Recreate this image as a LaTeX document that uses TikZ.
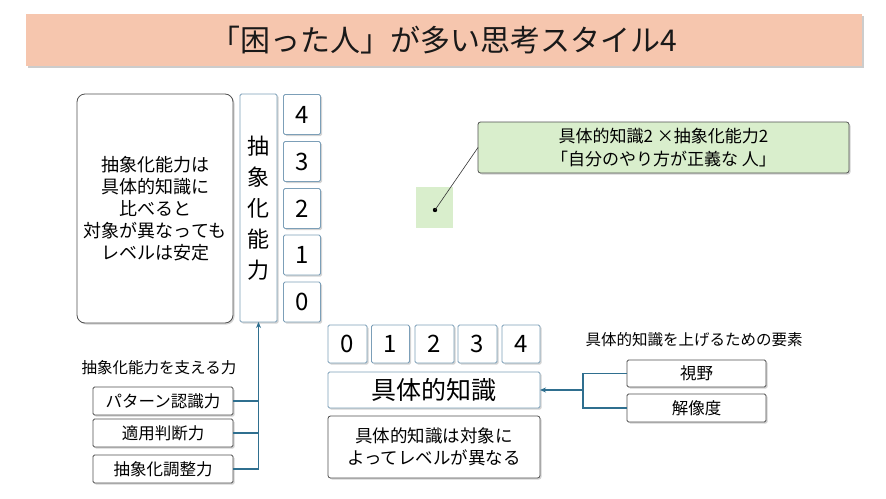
\documentclass[tikz,border=0pt]{standalone}
\usepackage{fontspec}
\setmainfont{Noto Sans CJK JP}
\usetikzlibrary{shadows,arrows.meta}
\definecolor{peach}{HTML}{F6C6AE}
\definecolor{greenf}{HTML}{D9EECC}
\definecolor{blueb}{HTML}{7C9FB8}
\definecolor{conn}{HTML}{2F6F8F}
\definecolor{darkb}{HTML}{505050}
\tikzset{
  shad/.style={drop shadow={shadow xshift=1.5pt,shadow yshift=-1.5pt,opacity=0.35}},
  bluebox/.style={draw=blueb,line width=0.8pt,fill=white,inner sep=0pt,outer sep=0pt,rounded corners=1.5pt,shad},
  greybox/.style={draw=darkb,line width=0.8pt,fill=white,inner sep=0pt,outer sep=0pt,rounded corners=2.5pt,shad},
  cline/.style={draw=conn,line width=1.1pt},
  numtxt/.style={font=\fontsize{24}{26}\selectfont},
}
\begin{document}
\begin{tikzpicture}[x=1pt,y=-1pt]
\useasboundingbox (0,0) rectangle (886,498);
% title
\node[fill=peach,minimum width=836pt,minimum height=52pt,inner sep=0pt,
  drop shadow={shadow xshift=1.5pt,shadow yshift=-2pt,opacity=0.4},
  font=\fontsize{30}{32}\selectfont,text=black!90] (title) at (444,40) {「困った人」が多い思考スタイル4};
% left big box
\node[greybox,rounded corners=8pt,minimum width=156pt,minimum height=229pt,align=center,
  font=\fontsize{18}{22}\selectfont] (desc) at (155,208.5)
  {抽象化能力は\\具体的知識に\\比べると\\対象が異なっても\\レベルは安定};
% vertical label
\node[bluebox,minimum width=37pt,minimum height=228pt,align=center,
  font=\fontsize{22}{31}\selectfont] (abs) at (258.5,208) {抽\\象\\化\\能\\力};
% vertical numbers
\node[bluebox,numtxt,minimum width=37pt,minimum height=40pt] (v4) at (302,114.5) {4};
\node[bluebox,numtxt,minimum width=37pt,minimum height=40pt] (v3) at (302,161.5) {3};
\node[bluebox,numtxt,minimum width=37pt,minimum height=40pt] (v2) at (302,208.5) {2};
\node[bluebox,numtxt,minimum width=37pt,minimum height=40pt] (v1) at (302,255) {1};
\node[bluebox,numtxt,minimum width=37pt,minimum height=40pt] (v0) at (302,302) {0};
% horizontal numbers
\node[bluebox,numtxt,minimum width=39pt,minimum height=38pt] (h0) at (347.5,344) {0};
\node[bluebox,numtxt,minimum width=38pt,minimum height=38pt] (h1) at (390.5,344) {1};
\node[bluebox,numtxt,minimum width=39pt,minimum height=38pt] (h2) at (434.5,344) {2};
\node[bluebox,numtxt,minimum width=39pt,minimum height=38pt] (h3) at (477.5,344) {3};
\node[bluebox,numtxt,minimum width=38pt,minimum height=38pt] (h4) at (521,344) {4};
% concrete knowledge
\node[bluebox,minimum width=212pt,minimum height=36pt,font=\fontsize{25}{27}\selectfont] (gutai) at (434,390) {具体的知識};
\node[greybox,minimum width=212pt,minimum height=62pt,align=center,font=\fontsize{17.5}{22}\selectfont] (gdesc) at (434,447) {具体的知識は対象に\\よってレベルが異なる};
% callout
\node[greybox,fill=greenf,minimum width=371pt,minimum height=51pt,align=center,font=\fontsize{17}{23}\selectfont] (call) at (663.5,147.5) {具体的知識2 ×抽象化能力2\\「自分のやり方が正義な 人」};
\node[fill=greenf,minimum width=37pt,minimum height=41pt,inner sep=0pt] (sq) at (434.5,207.5) {};
\coordinate (dot) at (435,210);
\fill[black] (dot) circle (2.2pt);
\draw[black!80,line width=0.6pt] (dot) -- (call.west);
% left bottom
\node[font=\fontsize{15.5}{18}\selectfont,anchor=center] (lbl) at (159,368) {抽象化能力を支える力};
\node[greybox,rounded corners=1.5pt,minimum width=140pt,minimum height=28pt,font=\fontsize{16.5}{18}\selectfont] (pat) at (163,401) {パターン認識力};
\node[greybox,rounded corners=1.5pt,minimum width=140pt,minimum height=28pt,font=\fontsize{16.5}{18}\selectfont] (adj) at (163,433) {適用判断力};
\node[greybox,rounded corners=1.5pt,minimum width=140pt,minimum height=28pt,font=\fontsize{16.5}{18}\selectfont] (cho) at (163,469) {抽象化調整力};
\draw[cline] (pat.east) -- (pat.east -| abs.south);
\draw[cline] (adj.east) -- (adj.east -| abs.south);
\draw[cline,-{Stealth[length=6pt,width=5pt]}] (cho.east) -| (abs.south);
% right
\node[font=\fontsize{15.5}{18}\selectfont] (rlbl) at (694,340) {具体的知識を上げるための要素};
\node[greybox,rounded corners=1.5pt,minimum width=139pt,minimum height=27pt,font=\fontsize{16.5}{18}\selectfont] (shiya) at (696.5,373.5) {視野};
\node[greybox,rounded corners=1.5pt,minimum width=139pt,minimum height=28pt,font=\fontsize{16.5}{18}\selectfont] (kai) at (696.5,408) {解像度};
\coordinate (br) at (583,390);
\draw[cline] (shiya.west) -| (br) |- (kai.west);
\draw[cline,-{Stealth[length=6pt,width=5pt]}] (br) -- (br -| gutai.east);
\end{tikzpicture}
\end{document}
